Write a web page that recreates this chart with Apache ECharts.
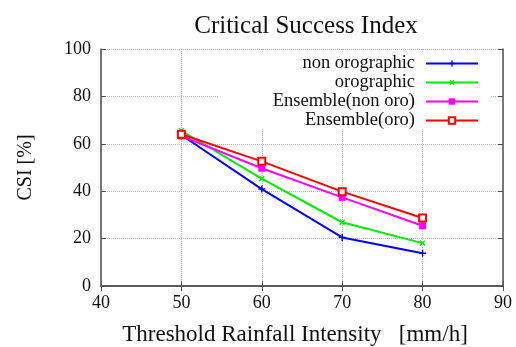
<!DOCTYPE html>
<html>
<head>
<meta charset="utf-8">
<script src="https://cdn.jsdelivr.net/npm/echarts@6/dist/echarts.min.js"></script>
<style>
  html, body { margin: 0; padding: 0; background: #fff; }
  #main { width: 516px; height: 347px; }
</style>
</head>
<body>
<div id="main"></div>
<script>
// thresholds [mm/h]
var thresholds = [50, 60, 70, 80];
// CSI [%] per method
var nonOrographic = [63.7, 40.9, 20.5, 13.8];
var orographic = [65.5, 45.3, 26.9, 18.1];
var ensembleNonOro = [63.3, 49.7, 37.4, 25.4];
var ensembleOro = [64.0, 52.6, 39.8, 28.7];

var seriesNames = ['non orographic', 'orographic', 'Ensemble(non oro)', 'Ensemble(oro)'];

var font = '"Liberation Serif", "DejaVu Serif", serif';
var axisColor = '#505050';
var plusPath = 'path://M4,0H6V4H10V6H6V10H4V6H0V4H4Z';

function pairs(vals) {
  return thresholds.map(function (t, i) { return [t, vals[i]]; });
}

function mkSeries(name, vals, color, symbol, size, rotate) {
  return {
    name: name,
    type: 'line',
    data: pairs(vals),
    symbol: symbol,
    symbolSize: size,
    symbolRotate: rotate || 0,
    showAllSymbol: true,
    lineStyle: { color: color, width: 2 },
    itemStyle: { color: color, borderColor: color, borderWidth: symbol === 'emptyRect' ? 1.5 : 0 },
    emphasis: { disabled: true }
  };
}

var myChart = echarts.init(document.getElementById('main'));

var option = {
  animation: false,
  title: {
    text: 'Critical Success Index',
    left: 301,
    textAlign: 'center',
    top: 9,
    textStyle: { fontFamily: font, fontSize: 25, fontWeight: 'normal', color: '#111' }
  },
  legend: {
    orient: 'vertical',
    right: 26,
    top: 53,
    align: 'right',
    itemWidth: 52,
    itemHeight: 8,
    itemGap: 0,
    padding: [1, 11, 1, 6],
    backgroundColor: '#fff',
    data: seriesNames,
    formatter: function (n) { return '{a|' + n + '}'; },
    textStyle: {
      fontFamily: font,
      fontSize: 18,
      color: '#111',
      rich: {
        a: {
          width: 190, align: 'right', padding: [0, 6, 0, 0], lineHeight: 19,
          fontFamily: font, fontSize: 18.5, color: '#111'
        }
      }
    }
  },
  grid: { left: 101, right: 13, top: 49, bottom: 61, outerBoundsMode: 'none', containLabel: false },
  xAxis: [{
    type: 'value',
    min: 40, max: 90, interval: 10,
    name: 'Threshold Rainfall Intensity   [mm/h]',
    nameLocation: 'middle',
    nameGap: 37,
    nameTextStyle: { fontFamily: font, fontSize: 23, color: '#111', padding: [0, 14, 0, 0] },
    axisLine: { show: true, lineStyle: { color: axisColor, width: 1.5 } },
    axisTick: { show: true, inside: true, length: 5, lineStyle: { color: axisColor } },
    axisLabel: { fontFamily: font, fontSize: 18, color: '#111', margin: 8 },
    splitLine: { show: true, lineStyle: { color: '#bbb', type: 'dotted' } }
  }, {
    type: 'value',
    position: 'top',
    min: 40, max: 90, interval: 10,
    axisLine: { show: true, lineStyle: { color: axisColor, width: 1.5 } },
    axisTick: { show: true, inside: true, length: 5, lineStyle: { color: axisColor } },
    axisLabel: { show: false },
    splitLine: { show: false }
  }],
  yAxis: [{
    type: 'value',
    min: 0, max: 100, interval: 20,
    name: 'CSI [%]',
    nameLocation: 'middle',
    nameGap: 65,
    nameTextStyle: { fontFamily: font, fontSize: 20, color: '#111' },
    axisLine: { show: true, lineStyle: { color: axisColor, width: 1.5 } },
    axisTick: { show: true, inside: true, length: 5, lineStyle: { color: axisColor } },
    axisLabel: { fontFamily: font, fontSize: 18, color: '#111', margin: 10 },
    splitLine: { show: true, lineStyle: { color: '#bbb', type: 'dotted' } }
  }, {
    type: 'value',
    position: 'right',
    min: 0, max: 100, interval: 20,
    axisLine: { show: true, lineStyle: { color: axisColor, width: 1.5 } },
    axisTick: { show: true, inside: true, length: 5, lineStyle: { color: axisColor } },
    axisLabel: { show: false },
    splitLine: { show: false }
  }],
  series: [
    mkSeries(seriesNames[0], nonOrographic, '#0000ff', plusPath, 7, 0),
    mkSeries(seriesNames[1], orographic, '#00ee00', plusPath, 7, 45),
    mkSeries(seriesNames[2], ensembleNonOro, '#ff00ff', 'rect', 7, 0),
    mkSeries(seriesNames[3], ensembleOro, '#ff0000', 'emptyRect', 7, 0)
  ]
};

myChart.setOption(option);
</script>
</body>
</html>
